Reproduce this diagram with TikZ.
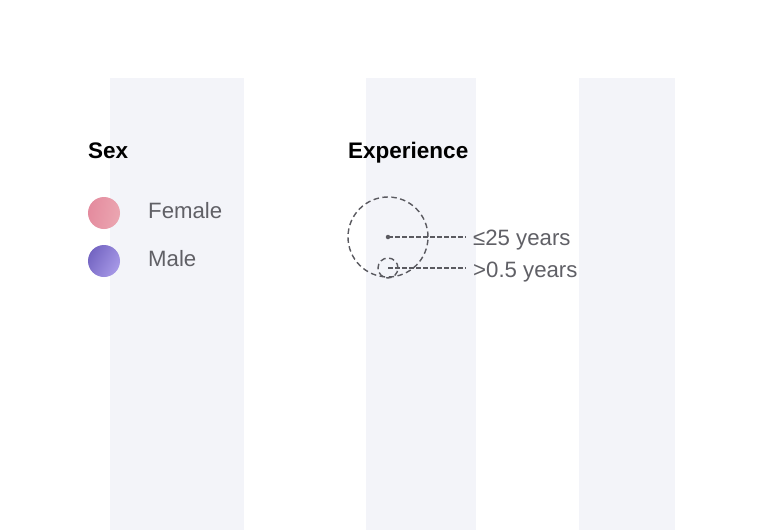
\documentclass[tikz,border=0pt]{standalone}
\usepackage{fontspec}
\setmainfont{Liberation Sans}
\definecolor{stripe}{HTML}{F3F4F9}
\definecolor{txt}{HTML}{606066}
\definecolor{dash}{HTML}{5A5A60}
\definecolor{fdark}{HTML}{E48B9E}
\definecolor{flight}{HTML}{EBA6B1}
\definecolor{mdark}{HTML}{7465C2}
\definecolor{mlight}{HTML}{A799E7}
\tikzset{
  stripebox/.style={fill=stripe, draw=none},
  title/.style={anchor=base west, inner sep=0pt, font=\bfseries\fontsize{22.5}{26}\selectfont, text=black},
  label/.style={anchor=base west, inner sep=0pt, font=\fontsize{22.2}{26}\selectfont, text=txt},
  ring/.style={circle, draw=dash, line width=1.4pt, dash pattern=on 5.5pt off 3.5pt, inner sep=0pt},
  leader/.style={draw=dash, line width=1.4pt, dash pattern=on 4.5pt off 2.5pt},
}
\begin{document}
\begin{tikzpicture}[x=1pt,y=-1pt]
\useasboundingbox (0,0) rectangle (782,530);
\fill[white] (0,0) rectangle (782,530);
\path[stripebox] (110,78) rectangle (244,530);
\path[stripebox] (366,78) rectangle (476,530);
\path[stripebox] (579,78) rectangle (675,530);

% Sex legend
\node[title] (sex) at (88,158) {Sex};
\shade[left color=fdark, right color=flight, shading angle=80] (104,213) circle (16);
\node[circle, minimum size=32pt, inner sep=0pt] (female) at (104,213) {};
\shade[left color=mdark, right color=mlight, shading angle=60] (104,261) circle (16);
\node[circle, minimum size=32pt, inner sep=0pt] (male) at (104,261) {};
\node[label] (femalelab) at (148,218) {Female};
\node[label] (malelab) at (148,266) {Male};

% Experience legend
\node[title] (exp) at (348,158) {Experience};
\node[ring, minimum size=80pt] (big) at (388,237) {};
\node[ring, minimum size=20pt] (small) at (388,268) {};
\node[circle, fill=dash, inner sep=0pt, minimum size=4.5pt] (dot) at (388,237) {};
\coordinate (e1) at (466,237);
\coordinate (e2) at (466,268);
\draw[leader] (dot.center) -- (e1);
\draw[leader] (small.center) -- (e2);
\node[label] (lab1) at (473,245) {≤25 years};
\node[label] (lab2) at (473,277) {>0.5 years};
\end{tikzpicture}
\end{document}
